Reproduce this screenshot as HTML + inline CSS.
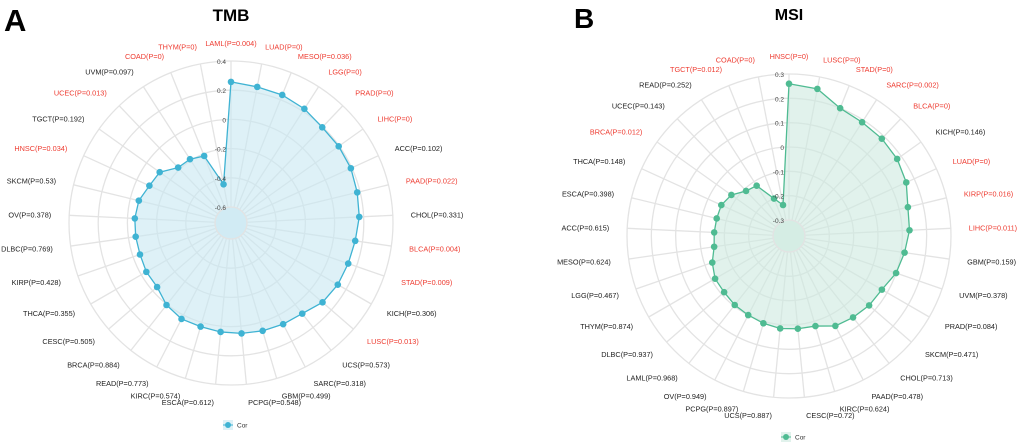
<!DOCTYPE html>
<html><head><meta charset="utf-8"><style>
body{margin:0;background:#fff;}
svg{display:block;font-family:"Liberation Sans",sans-serif;}
</style></head><body>
<svg id="chart" width="1020" height="446" viewBox="0 0 1020 446">
<text x="4" y="31" font-size="31" font-weight="bold">A</text>
<text x="231" y="21" font-size="17" font-weight="bold" text-anchor="middle">TMB</text>
<text x="574" y="28" font-size="28" font-weight="bold">B</text>
<text x="789" y="20" font-size="16" font-weight="bold" text-anchor="middle">MSI</text>
</svg>
<script>
const catsA=["LAML","LUAD","MESO","LGG","PRAD","LIHC","ACC","PAAD","CHOL","BLCA","STAD","KICH","LUSC","UCS","SARC","GBM","PCPG","ESCA","KIRC","READ","BRCA","CESC","THCA","KIRP","DLBC","OV","SKCM","HNSC","TGCT","UCEC","UVM","COAD","THYM"];
const pA=["0.004","0","0.036","0","0","0","0.102","0.022","0.331","0.004","0.009","0.306","0.013","0.573","0.318","0.499","0.548","0.612","0.574","0.773","0.884","0.505","0.355","0.428","0.769","0.378","0.53","0.034","0.192","0.013","0.097","0","0"];
const valsA=[0.257,0.24,0.235,0.22,0.196,0.196,0.193,0.18,0.17,0.15,0.14,0.135,0.12,0.08,0.07,0.06,0.05,0.04,0.03,0.03,0.005,-0.04,-0.04,-0.05,-0.05,-0.05,-0.06,-0.095,-0.11,-0.185,-0.19,-0.215,-0.44];
const ticksA=[-0.6,-0.4,-0.2,0,0.2,0.4];
const catsB=["HNSC","LUSC","STAD","SARC","BLCA","KICH","LUAD","KIRP","LIHC","GBM","UVM","PRAD","SKCM","CHOL","PAAD","KIRC","CESC","UCS","PCPG","OV","LAML","DLBC","THYM","LGG","MESO","ACC","ESCA","THCA","BRCA","UCEC","READ","TGCT","COAD"];
const pB=["0","0","0","0.002","0","0.146","0","0.016","0.011","0.159","0.378","0.084","0.471","0.713","0.478","0.624","0.72","0.887","0.897","0.949","0.968","0.937","0.874","0.467","0.624","0.615","0.398","0.148","0.012","0.143","0.252","0.012","0"];
const valsB=[0.26,0.25,0.2,0.19,0.187,0.18,0.164,0.137,0.13,0.114,0.1,0.075,0.07,0.06,0.05,0.02,0.017,0.016,0.008,0.0,-0.005,-0.013,-0.015,-0.032,-0.055,-0.058,-0.06,-0.06,-0.075,-0.11,-0.12,-0.2,-0.236];
const ticksB=[-0.3,-0.2,-0.1,0,0.1,0.2,0.3];

const svg=document.getElementById('chart');
const NS="http://www.w3.org/2000/svg";
function mk(tag,attrs){const e=document.createElementNS(NS,tag);for(const k in attrs)e.setAttribute(k,attrs[k]);svg.appendChild(e);return e;}

function radar(cfg){
  const {cx,cy,cats,ps,vals,ticks,r0,rMax,stroke,fill,key,legY}=cfg;
  const vmin=ticks[0],vmax=ticks[ticks.length-1];
  const rad=v=>r0+(v-vmin)/(vmax-vmin)*(rMax-r0);
  const n=cats.length;
  const ang=i=>i*2*Math.PI/n;
  ticks.forEach(t=>{
    const c=mk('circle',{cx:cx,cy:cy,r:rad(t),fill:'none',stroke:'#e3e3e3','stroke-width':1.3});
    
    
  });
  cats.forEach((c,i)=>{
    const a=ang(i);
    const l=mk('line',{x1:cx+r0*Math.sin(a),y1:cy-r0*Math.cos(a),x2:cx+rMax*Math.sin(a),y2:cy-rMax*Math.cos(a),stroke:'#e3e3e3','stroke-width':1.3});
    
    
  });
  const pts=vals.map((v,i)=>[cx+rad(v)*Math.sin(ang(i)),cy-rad(v)*Math.cos(ang(i))]);
  const poly=mk('polygon',{points:pts.map(p=>p.join(',')).join(' '),fill:fill,'fill-opacity':0.6,stroke:stroke,'stroke-width':1.3});
  
  
  const hole=mk('circle',{cx:cx,cy:cy,r:r0,fill:fill,'fill-opacity':0.6,stroke:'#e3e3e3','stroke-width':1.3});
  
  
  pts.forEach((p,i)=>{
    const d=mk('circle',{cx:p[0],cy:p[1],r:3.3,fill:stroke});
    
    
  });
  ticks.forEach(t=>{
    const tx=mk('text',{x:cx-5,y:cy-rad(t)+3,'font-size':6.5,'text-anchor':'end',fill:'#444'});
    tx.textContent=String(t);
    
    
  });
  cats.forEach((c,i)=>{
    const a=ang(i);
    const s=Math.sin(a);
    const red=parseFloat(ps[i])<0.05;
    const anchor=Math.abs(s)<0.01?'middle':(s>0?'start':'end');
    const tx=mk('text',{x:cx+180*s,y:cy-180*Math.cos(a)+3,'font-size':7.3,'text-anchor':anchor,fill:red?'#ee3b30':'#222'});
    tx.textContent=c+'(P='+ps[i]+')';
    
    
  });
  const lr=mk('rect',{x:cx-8,y:legY-5,width:10,height:10,fill:fill,'fill-opacity':0.6});
  
  
  const lc=mk('circle',{cx:cx-3,cy:legY,r:3,fill:stroke});
  
  
  const ll=mk('line',{x1:cx-8,y1:legY,x2:cx+2,y2:legY,stroke:stroke,'stroke-width':1});
  
  
  const lt=mk('text',{x:cx+6,y:legY+2.5,'font-size':6.5,fill:'#333'});
  lt.textContent='Cor';
  
  
}
radar({cx:231,cy:223,cats:catsA,ps:pA,vals:valsA,ticks:ticksA,r0:16,rMax:162,stroke:'#3fb3d3',fill:'#c8e7f1',key:'tmb',legY:425});
radar({cx:789,cy:236,cats:catsB,ps:pB,vals:valsB,ticks:ticksB,r0:16,rMax:162,stroke:'#4fbb92',fill:'#cdeadf',key:'msi',legY:437});
</script>
</body></html>
